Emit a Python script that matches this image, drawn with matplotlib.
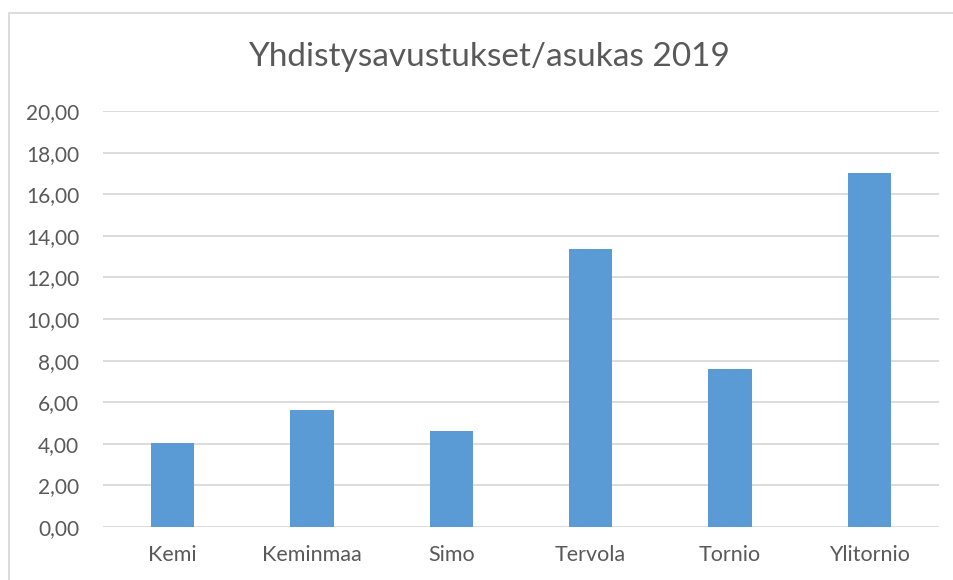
import matplotlib.pyplot as plt
from matplotlib.patches import Rectangle

# Data
municipalities = ['Kemi', 'Keminmaa', 'Simo', 'Tervola', 'Tornio', 'Ylitornio']
grants_per_resident = [4.03, 5.62, 4.63, 13.37, 7.60, 17.03]
y_ticks = [0, 2, 4, 6, 8, 10, 12, 14, 16, 18, 20]

plt.rcParams['font.family'] = ['Lato', 'DejaVu Sans']

W, H = 954, 580
fig = plt.figure(figsize=(W / 100, H / 100), dpi=100)
ax = fig.add_axes([103 / W, 53 / H, 836 / W, 416 / H])

ax.bar(range(len(municipalities)), grants_per_resident, width=0.31,
       color='#5B9BD5', zorder=3)

ax.set_xlim(-0.5, len(municipalities) - 0.5)
ax.set_ylim(0, 20)
ax.set_yticks(y_ticks)
ax.set_yticklabels(['{:.2f}'.format(v).replace('.', ',') for v in y_ticks])
ax.set_xticks(range(len(municipalities)))
ax.set_xticklabels(municipalities)

ax.grid(axis='y', color='#D9D9D9', linewidth=1.3, zorder=0)
for s in ax.spines.values():
    s.set_visible(False)
ax.tick_params(axis='both', length=0, colors='#595959')
ax.tick_params(axis='y', pad=17, labelsize=15)
ax.tick_params(axis='x', pad=13, labelsize=15.5)

fig.text(489 / W, 1 - 57 / H, 'Yhdistysavustukset/asukas 2019',
         ha='center', va='center', fontsize=24, color='#595959')

# chart border
fig.patches.append(Rectangle((9 / W, -0.1), 1.2, 1 - 13 / H + 0.1,
                             transform=fig.transFigure, fill=False,
                             edgecolor='#D9D9D9', linewidth=1.3))

plt.savefig('out.png', dpi=100)
